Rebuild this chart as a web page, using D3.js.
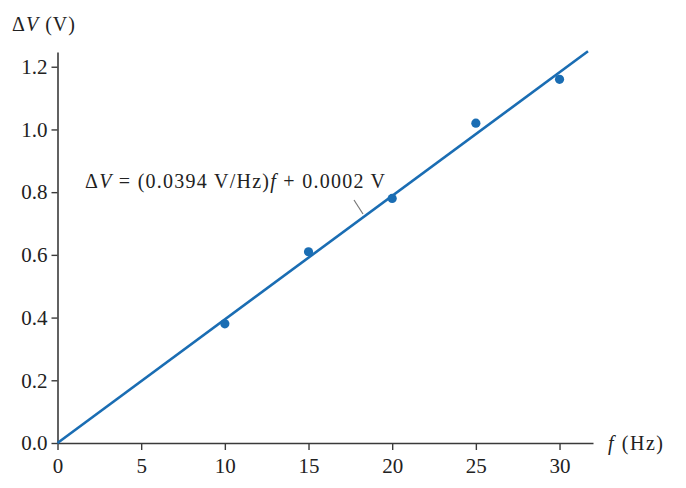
<!DOCTYPE html>
<html><head><meta charset="utf-8">
<script src="https://cdn.jsdelivr.net/npm/d3@7"></script>
<style>body{margin:0;background:#fff}svg{display:block;font-family:"Liberation Serif","Times New Roman",serif}</style>
</head><body><svg id="c" width="686" height="488"></svg>
<script>
const freqs = [10, 15, 20, 25, 30];
const deltaV = [0.38, 0.61, 0.78, 1.02, 1.16];
const slope = 0.0394, intercept = 0.0002;
const xTicks = [0, 5, 10, 15, 20, 25, 30];
const yTicks = [0.0, 0.2, 0.4, 0.6, 0.8, 1.0, 1.2];

const svg = d3.select("#c");
const x = d3.scaleLinear().domain([0, 32]).range([57.5, 593]);
const y = d3.scaleLinear().domain([0, 1.247]).range([443, 52]);
const axisCol = "#3a3a3a", blue = "#1a6db3", txt = "#222";
const FS = 21;

// x axis
const gx = svg.append("g").attr("transform", "translate(0,443)")
  .call(d3.axisBottom(x).tickValues(xTicks).tickFormat(d3.format("d")).tickSize(7).tickPadding(8).tickSizeOuter(0));
gx.select(".domain").attr("stroke", axisCol).attr("stroke-width", 1.6);
gx.selectAll(".tick line").attr("stroke", axisCol).attr("stroke-width", 1.4);
gx.selectAll(".tick text").attr("font-size", FS).attr("fill", txt).attr("font-family", "Liberation Serif");

// y axis
const gy = svg.append("g").attr("transform", "translate(57.5,0)")
  .call(d3.axisLeft(y).tickValues(yTicks).tickFormat(d3.format(".1f")).tickSize(6).tickPadding(4).tickSizeOuter(0));
gy.select(".domain").attr("stroke", axisCol).attr("stroke-width", 1.6);
gy.selectAll(".tick line").attr("stroke", axisCol).attr("stroke-width", 1.4);
gy.selectAll(".tick text").attr("font-size", FS).attr("fill", txt).attr("font-family", "Liberation Serif");

// fit line
const fx = [0, 31.7];
svg.append("path")
  .attr("d", d3.line().x(d => x(d)).y(d => y(slope * d + intercept))(fx))
  .attr("stroke", blue).attr("stroke-width", 2.6).attr("fill", "none");

// points
svg.selectAll("circle.pt").data(freqs).join("circle")
  .attr("cx", d => x(d)).attr("cy", (d, i) => y(deltaV[i])).attr("r", 4.6).attr("fill", blue);

// axis titles
const yt = svg.append("text").attr("x", 12).attr("y", 31).attr("font-size", 20).attr("fill", txt)
  .attr("textLength", 63).attr("lengthAdjust", "spacing");
yt.append("tspan").text("Δ");
yt.append("tspan").attr("font-style", "italic").text("V");
yt.append("tspan").text(" (V)");

const xt = svg.append("text").attr("x", 608).attr("y", 450).attr("font-size", 20).attr("fill", txt)
  .attr("textLength", 55).attr("lengthAdjust", "spacing");
xt.append("tspan").attr("font-style", "italic").text("f");
xt.append("tspan").text(" (Hz)");

// equation label
const eq = svg.append("text").attr("x", 85).attr("y", 188).attr("font-size", 20).attr("fill", txt)
  .attr("textLength", 300).attr("lengthAdjust", "spacing");
eq.append("tspan").text("Δ");
eq.append("tspan").attr("font-style", "italic").text("V");
eq.append("tspan").text(" = (0.0394 V/Hz)");
eq.append("tspan").attr("font-style", "italic").text("f");
eq.append("tspan").text(" + 0.0002 V");

svg.append("line").attr("x1", 354).attr("y1", 200).attr("x2", 363).attr("y2", 214)
  .attr("stroke", "#777").attr("stroke-width", 1.2);
</script></body></html>
